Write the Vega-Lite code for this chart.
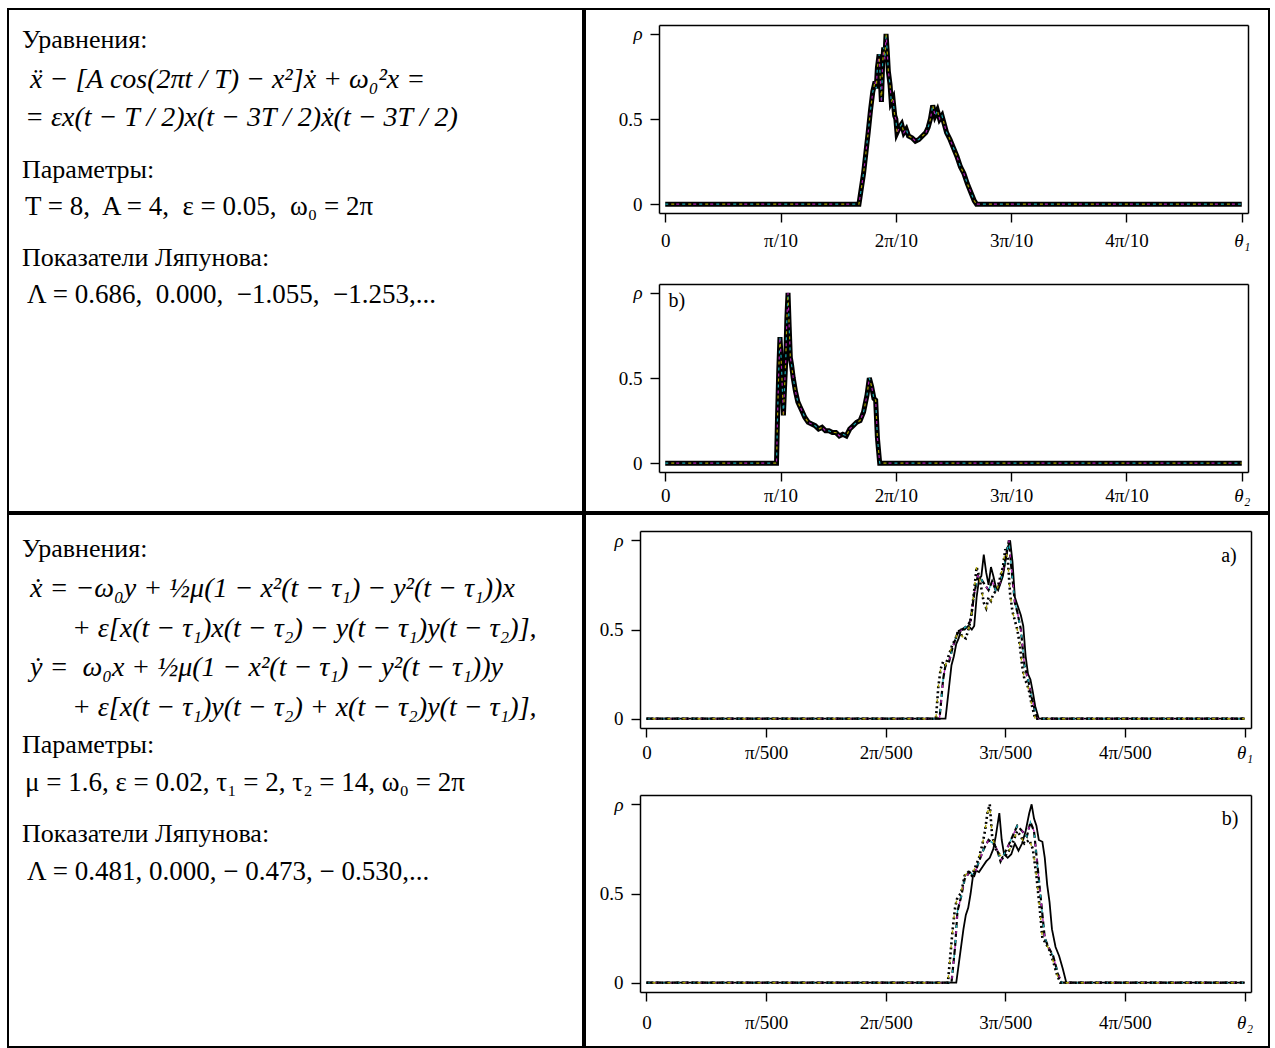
{
  "$schema": "https://vega.github.io/schema/vega-lite/v6.json",
  "padding": {"left": 7, "top": 8, "right": 0, "bottom": 0},
  "background": "white",
  "spacing": 0,
  "config": {
    "view": {"stroke": "black", "strokeWidth": 2},
    "concat": {"spacing": 0},
    "axis": {"grid": false, "domain": true, "domainColor": "black", "domainWidth": 1.5, "labelFont": "Liberation Serif", "labelFontSize": 19, "labelColor": "black", "tickColor": "black", "tickSize": 9, "tickWidth": 1.4, "labelFlush": false, "labelOverlap": false, "title": null}
  },
  "datasets": {
    "text1": [
      {"row": 0.82, "indent": 0.61, "kind": "heading", "line": "Уравнения:"},
      {"row": 1.87, "indent": 0.96, "kind": "formula", "line": "ẍ − [A cos(2πt / T) − x²]ẋ + ω₀²x ="},
      {"row": 2.87, "indent": 0.74, "kind": "formula", "line": "= εx(t − T / 2)x(t − 3T / 2)ẋ(t − 3T / 2)"},
      {"row": 4.24, "indent": 0.61, "kind": "heading", "line": "Параметры:"},
      {"row": 5.21, "indent": 0.74, "kind": "value", "line": "T = 8,\u00a0 A = 4,\u00a0 ε = 0.05,\u00a0 ω₀ = 2π"},
      {"row": 6.55, "indent": 0.61, "kind": "heading", "line": "Показатели Ляпунова:"},
      {"row": 7.53, "indent": 0.83, "kind": "value", "line": "Λ = 0.686,\u00a0 0.000,\u00a0 −1.055,\u00a0 −1.253,..."}
    ],
    "text2": [
      {"row": 0.92, "indent": 0.61, "kind": "heading", "line": "Уравнения:"},
      {"row": 1.97, "indent": 0.96, "kind": "formula", "line": "ẋ = −ω₀y + ½μ(1 − x²(t − τ₁) − y²(t − τ₁))x"},
      {"row": 3.03, "indent": 2.78, "kind": "formula", "line": "+ ε[x(t − τ₁)x(t − τ₂) − y(t − τ₁)y(t − τ₂)],"},
      {"row": 4.05, "indent": 0.96, "kind": "formula", "line": "ẏ =\u00a0 ω₀x + ½μ(1 − x²(t − τ₁) − y²(t − τ₁))y"},
      {"row": 5.11, "indent": 2.78, "kind": "formula", "line": "+ ε[x(t − τ₁)y(t − τ₂) + x(t − τ₂)y(t − τ₁)],"},
      {"row": 6.08, "indent": 0.61, "kind": "heading", "line": "Параметры:"},
      {"row": 7.08, "indent": 0.74, "kind": "value", "line": "μ = 1.6, ε = 0.02, τ₁ = 2, τ₂ = 14, ω₀ = 2π"},
      {"row": 8.42, "indent": 0.61, "kind": "heading", "line": "Показатели Ляпунова:"},
      {"row": 9.42, "indent": 0.83, "kind": "value", "line": "Λ = 0.481, 0.000, − 0.473, − 0.530,..."}
    ],
    "topA": [
      {"theta":0,"rho":0},{"theta":1.68,"rho":0},{"theta":1.72,"rho":0.18},{"theta":1.74,"rho":0.3},{"theta":1.76,"rho":0.42},{"theta":1.78,"rho":0.55},{"theta":1.8,"rho":0.66},{"theta":1.82,"rho":0.72},{"theta":1.83,"rho":0.68},{"theta":1.84,"rho":0.8},{"theta":1.855,"rho":0.88},{"theta":1.865,"rho":0.74},{"theta":1.875,"rho":0.6},{"theta":1.885,"rho":0.82},{"theta":1.895,"rho":0.92},{"theta":1.905,"rho":0.85},{"theta":1.915,"rho":1.0},{"theta":1.925,"rho":0.9},{"theta":1.935,"rho":0.78},{"theta":1.95,"rho":0.7},{"theta":1.96,"rho":0.6},{"theta":1.975,"rho":0.62},{"theta":1.99,"rho":0.52},{"theta":2.0,"rho":0.5},{"theta":2.01,"rho":0.42},{"theta":2.03,"rho":0.45},{"theta":2.05,"rho":0.47},{"theta":2.07,"rho":0.42},{"theta":2.09,"rho":0.44},{"theta":2.11,"rho":0.4},{"theta":2.14,"rho":0.39},{"theta":2.17,"rho":0.37},{"theta":2.2,"rho":0.38},{"theta":2.23,"rho":0.4},{"theta":2.26,"rho":0.42},{"theta":2.28,"rho":0.45},{"theta":2.3,"rho":0.5},{"theta":2.32,"rho":0.58},{"theta":2.34,"rho":0.52},{"theta":2.36,"rho":0.55},{"theta":2.38,"rho":0.5},{"theta":2.4,"rho":0.52},{"theta":2.42,"rho":0.47},{"theta":2.44,"rho":0.42},{"theta":2.47,"rho":0.38},{"theta":2.5,"rho":0.33},{"theta":2.53,"rho":0.28},{"theta":2.56,"rho":0.22},{"theta":2.59,"rho":0.18},{"theta":2.62,"rho":0.12},{"theta":2.65,"rho":0.07},{"theta":2.68,"rho":0.02},{"theta":2.7,"rho":0},{"theta":5,"rho":0}
    ],
    "topB": [
      {"theta":0,"rho":0},{"theta":0.965,"rho":0},{"theta":0.975,"rho":0.3},{"theta":0.985,"rho":0.55},{"theta":0.995,"rho":0.74},{"theta":1.005,"rho":0.62},{"theta":1.015,"rho":0.45},{"theta":1.025,"rho":0.28},{"theta":1.035,"rho":0.45},{"theta":1.045,"rho":0.6},{"theta":1.055,"rho":0.85},{"theta":1.065,"rho":1.0},{"theta":1.075,"rho":0.8},{"theta":1.085,"rho":0.62},{"theta":1.095,"rho":0.58},{"theta":1.11,"rho":0.5},{"theta":1.13,"rho":0.42},{"theta":1.15,"rho":0.36},{"theta":1.17,"rho":0.33},{"theta":1.19,"rho":0.3},{"theta":1.21,"rho":0.27},{"theta":1.24,"rho":0.24},{"theta":1.27,"rho":0.23},{"theta":1.3,"rho":0.22},{"theta":1.33,"rho":0.2},{"theta":1.36,"rho":0.21},{"theta":1.39,"rho":0.19},{"theta":1.42,"rho":0.19},{"theta":1.45,"rho":0.18},{"theta":1.48,"rho":0.18},{"theta":1.51,"rho":0.16},{"theta":1.54,"rho":0.17},{"theta":1.57,"rho":0.16},{"theta":1.6,"rho":0.2},{"theta":1.63,"rho":0.22},{"theta":1.66,"rho":0.24},{"theta":1.69,"rho":0.25},{"theta":1.72,"rho":0.3},{"theta":1.75,"rho":0.4},{"theta":1.77,"rho":0.5},{"theta":1.79,"rho":0.45},{"theta":1.81,"rho":0.38},{"theta":1.825,"rho":0.37},{"theta":1.84,"rho":0.15},{"theta":1.86,"rho":0},{"theta":5,"rho":0}
    ],
    "botA": [
      {"series":"solid","theta":0,"rho":0},{"series":"solid","theta":2.5,"rho":0},{"series":"solid","theta":2.53,"rho":0.18},{"series":"solid","theta":2.55,"rho":0.3},{"series":"solid","theta":2.57,"rho":0.35},{"series":"solid","theta":2.59,"rho":0.42},{"series":"solid","theta":2.61,"rho":0.45},{"series":"solid","theta":2.63,"rho":0.5},{"series":"solid","theta":2.66,"rho":0.5},{"series":"solid","theta":2.69,"rho":0.52},{"series":"solid","theta":2.72,"rho":0.5},{"series":"solid","theta":2.74,"rho":0.52},{"series":"solid","theta":2.76,"rho":0.68},{"series":"solid","theta":2.78,"rho":0.78},{"series":"solid","theta":2.8,"rho":0.8},{"series":"solid","theta":2.82,"rho":0.92},{"series":"solid","theta":2.84,"rho":0.82},{"series":"solid","theta":2.86,"rho":0.75},{"series":"solid","theta":2.88,"rho":0.85},{"series":"solid","theta":2.9,"rho":0.8},{"series":"solid","theta":2.92,"rho":0.74},{"series":"solid","theta":2.94,"rho":0.72},{"series":"solid","theta":2.96,"rho":0.76},{"series":"solid","theta":2.98,"rho":0.8},{"series":"solid","theta":3.0,"rho":0.88},{"series":"solid","theta":3.02,"rho":0.96},{"series":"solid","theta":3.04,"rho":1.0},{"series":"solid","theta":3.06,"rho":0.88},{"series":"solid","theta":3.08,"rho":0.68},{"series":"solid","theta":3.1,"rho":0.64},{"series":"solid","theta":3.13,"rho":0.58},{"series":"solid","theta":3.15,"rho":0.52},{"series":"solid","theta":3.17,"rho":0.35},{"series":"solid","theta":3.19,"rho":0.25},{"series":"solid","theta":3.21,"rho":0.22},{"series":"solid","theta":3.23,"rho":0.15},{"series":"solid","theta":3.25,"rho":0.07},{"series":"solid","theta":3.28,"rho":0},{"series":"solid","theta":5,"rho":0},
      {"series":"dotted","theta":0,"rho":0},{"series":"dotted","theta":2.42,"rho":0},{"series":"dotted","theta":2.44,"rho":0.18},{"series":"dotted","theta":2.46,"rho":0.28},{"series":"dotted","theta":2.48,"rho":0.32},{"series":"dotted","theta":2.5,"rho":0.3},{"series":"dotted","theta":2.53,"rho":0.36},{"series":"dotted","theta":2.56,"rho":0.42},{"series":"dotted","theta":2.58,"rho":0.44},{"series":"dotted","theta":2.61,"rho":0.5},{"series":"dotted","theta":2.64,"rho":0.46},{"series":"dotted","theta":2.67,"rho":0.45},{"series":"dotted","theta":2.7,"rho":0.52},{"series":"dotted","theta":2.72,"rho":0.6},{"series":"dotted","theta":2.74,"rho":0.72},{"series":"dotted","theta":2.76,"rho":0.85},{"series":"dotted","theta":2.78,"rho":0.8},{"series":"dotted","theta":2.8,"rho":0.73},{"series":"dotted","theta":2.82,"rho":0.65},{"series":"dotted","theta":2.84,"rho":0.62},{"series":"dotted","theta":2.86,"rho":0.68},{"series":"dotted","theta":2.88,"rho":0.66},{"series":"dotted","theta":2.9,"rho":0.7},{"series":"dotted","theta":2.93,"rho":0.72},{"series":"dotted","theta":2.96,"rho":0.8},{"series":"dotted","theta":2.98,"rho":0.85},{"series":"dotted","theta":3.0,"rho":0.95},{"series":"dotted","theta":3.02,"rho":0.9},{"series":"dotted","theta":3.04,"rho":0.7},{"series":"dotted","theta":3.06,"rho":0.6},{"series":"dotted","theta":3.08,"rho":0.55},{"series":"dotted","theta":3.1,"rho":0.5},{"series":"dotted","theta":3.12,"rho":0.42},{"series":"dotted","theta":3.14,"rho":0.3},{"series":"dotted","theta":3.16,"rho":0.22},{"series":"dotted","theta":3.18,"rho":0.2},{"series":"dotted","theta":3.2,"rho":0.15},{"series":"dotted","theta":3.22,"rho":0.08},{"series":"dotted","theta":3.25,"rho":0},{"series":"dotted","theta":5,"rho":0},
      {"series":"dashed","theta":0,"rho":0},{"series":"dashed","theta":2.45,"rho":0},{"series":"dashed","theta":2.48,"rho":0.22},{"series":"dashed","theta":2.5,"rho":0.3},{"series":"dashed","theta":2.53,"rho":0.32},{"series":"dashed","theta":2.56,"rho":0.4},{"series":"dashed","theta":2.6,"rho":0.48},{"series":"dashed","theta":2.64,"rho":0.5},{"series":"dashed","theta":2.68,"rho":0.52},{"series":"dashed","theta":2.71,"rho":0.55},{"series":"dashed","theta":2.74,"rho":0.7},{"series":"dashed","theta":2.77,"rho":0.8},{"series":"dashed","theta":2.8,"rho":0.78},{"series":"dashed","theta":2.83,"rho":0.75},{"series":"dashed","theta":2.86,"rho":0.72},{"series":"dashed","theta":2.89,"rho":0.77},{"series":"dashed","theta":2.92,"rho":0.72},{"series":"dashed","theta":2.95,"rho":0.75},{"series":"dashed","theta":2.98,"rho":0.82},{"series":"dashed","theta":3.01,"rho":0.93},{"series":"dashed","theta":3.03,"rho":1.0},{"series":"dashed","theta":3.05,"rho":0.85},{"series":"dashed","theta":3.08,"rho":0.65},{"series":"dashed","theta":3.1,"rho":0.6},{"series":"dashed","theta":3.13,"rho":0.5},{"series":"dashed","theta":3.16,"rho":0.3},{"series":"dashed","theta":3.19,"rho":0.22},{"series":"dashed","theta":3.22,"rho":0.12},{"series":"dashed","theta":3.25,"rho":0.04},{"series":"dashed","theta":3.27,"rho":0},{"series":"dashed","theta":5,"rho":0}
    ],
    "botB": [
      {"series":"solid","theta":0,"rho":0},{"series":"solid","theta":2.59,"rho":0},{"series":"solid","theta":2.62,"rho":0.15},{"series":"solid","theta":2.65,"rho":0.3},{"series":"solid","theta":2.67,"rho":0.38},{"series":"solid","theta":2.69,"rho":0.42},{"series":"solid","theta":2.71,"rho":0.5},{"series":"solid","theta":2.73,"rho":0.6},{"series":"solid","theta":2.75,"rho":0.63},{"series":"solid","theta":2.78,"rho":0.62},{"series":"solid","theta":2.81,"rho":0.65},{"series":"solid","theta":2.84,"rho":0.68},{"series":"solid","theta":2.87,"rho":0.7},{"series":"solid","theta":2.9,"rho":0.75},{"series":"solid","theta":2.92,"rho":0.82},{"series":"solid","theta":2.95,"rho":0.95},{"series":"solid","theta":2.97,"rho":0.8},{"series":"solid","theta":2.99,"rho":0.72},{"series":"solid","theta":3.02,"rho":0.7},{"series":"solid","theta":3.05,"rho":0.72},{"series":"solid","theta":3.08,"rho":0.78},{"series":"solid","theta":3.11,"rho":0.74},{"series":"solid","theta":3.14,"rho":0.78},{"series":"solid","theta":3.17,"rho":0.85},{"series":"solid","theta":3.2,"rho":0.95},{"series":"solid","theta":3.22,"rho":1.0},{"series":"solid","theta":3.24,"rho":0.92},{"series":"solid","theta":3.26,"rho":0.88},{"series":"solid","theta":3.28,"rho":0.8},{"series":"solid","theta":3.31,"rho":0.79},{"series":"solid","theta":3.33,"rho":0.7},{"series":"solid","theta":3.35,"rho":0.55},{"series":"solid","theta":3.37,"rho":0.45},{"series":"solid","theta":3.39,"rho":0.3},{"series":"solid","theta":3.42,"rho":0.2},{"series":"solid","theta":3.45,"rho":0.15},{"series":"solid","theta":3.48,"rho":0.08},{"series":"solid","theta":3.51,"rho":0},{"series":"solid","theta":5,"rho":0},
      {"series":"dotted","theta":0,"rho":0},{"series":"dotted","theta":2.52,"rho":0},{"series":"dotted","theta":2.54,"rho":0.15},{"series":"dotted","theta":2.56,"rho":0.3},{"series":"dotted","theta":2.58,"rho":0.42},{"series":"dotted","theta":2.6,"rho":0.48},{"series":"dotted","theta":2.63,"rho":0.5},{"series":"dotted","theta":2.66,"rho":0.6},{"series":"dotted","theta":2.69,"rho":0.62},{"series":"dotted","theta":2.72,"rho":0.6},{"series":"dotted","theta":2.75,"rho":0.65},{"series":"dotted","theta":2.78,"rho":0.7},{"series":"dotted","theta":2.81,"rho":0.78},{"series":"dotted","theta":2.83,"rho":0.85},{"series":"dotted","theta":2.85,"rho":0.95},{"series":"dotted","theta":2.87,"rho":1.0},{"series":"dotted","theta":2.89,"rho":0.82},{"series":"dotted","theta":2.92,"rho":0.75},{"series":"dotted","theta":2.95,"rho":0.72},{"series":"dotted","theta":2.98,"rho":0.7},{"series":"dotted","theta":3.01,"rho":0.72},{"series":"dotted","theta":3.04,"rho":0.75},{"series":"dotted","theta":3.07,"rho":0.8},{"series":"dotted","theta":3.1,"rho":0.85},{"series":"dotted","theta":3.13,"rho":0.82},{"series":"dotted","theta":3.16,"rho":0.78},{"series":"dotted","theta":3.2,"rho":0.8},{"series":"dotted","theta":3.23,"rho":0.75},{"series":"dotted","theta":3.26,"rho":0.6},{"series":"dotted","theta":3.29,"rho":0.4},{"series":"dotted","theta":3.31,"rho":0.25},{"series":"dotted","theta":3.34,"rho":0.22},{"series":"dotted","theta":3.37,"rho":0.18},{"series":"dotted","theta":3.4,"rho":0.12},{"series":"dotted","theta":3.43,"rho":0.05},{"series":"dotted","theta":3.46,"rho":0},{"series":"dotted","theta":5,"rho":0},
      {"series":"dashed","theta":0,"rho":0},{"series":"dashed","theta":2.55,"rho":0},{"series":"dashed","theta":2.58,"rho":0.2},{"series":"dashed","theta":2.6,"rho":0.4},{"series":"dashed","theta":2.63,"rho":0.48},{"series":"dashed","theta":2.66,"rho":0.58},{"series":"dashed","theta":2.7,"rho":0.62},{"series":"dashed","theta":2.74,"rho":0.6},{"series":"dashed","theta":2.78,"rho":0.68},{"series":"dashed","theta":2.82,"rho":0.75},{"series":"dashed","theta":2.86,"rho":0.8},{"series":"dashed","theta":2.9,"rho":0.78},{"series":"dashed","theta":2.93,"rho":0.75},{"series":"dashed","theta":2.96,"rho":0.68},{"series":"dashed","theta":2.99,"rho":0.72},{"series":"dashed","theta":3.02,"rho":0.76},{"series":"dashed","theta":3.06,"rho":0.82},{"series":"dashed","theta":3.1,"rho":0.88},{"series":"dashed","theta":3.14,"rho":0.85},{"series":"dashed","theta":3.18,"rho":0.82},{"series":"dashed","theta":3.21,"rho":0.9},{"series":"dashed","theta":3.24,"rho":0.85},{"series":"dashed","theta":3.27,"rho":0.65},{"series":"dashed","theta":3.3,"rho":0.45},{"series":"dashed","theta":3.33,"rho":0.25},{"series":"dashed","theta":3.36,"rho":0.2},{"series":"dashed","theta":3.4,"rho":0.15},{"series":"dashed","theta":3.44,"rho":0.05},{"series":"dashed","theta":3.47,"rho":0},{"series":"dashed","theta":5,"rho":0}
    ]
  },
  "vconcat": [
    {
      "spacing": 0,
      "hconcat": [
        {
          "width": 575, "height": 503,
          "data": {"name": "text1"},
          "encoding": {
            "x": {"field": "indent", "type": "quantitative", "scale": {"domain": [0, 25.0], "nice": false, "zero": false}, "axis": null},
            "y": {"field": "row", "type": "quantitative", "scale": {"domain": [0, 13.237], "reverse": true, "nice": false, "zero": false}, "axis": null},
            "text": {"field": "line", "type": "nominal"}
          },
          "layer": [
            {"transform": [{"filter": "datum.kind == 'heading'"}], "mark": {"type": "text", "align": "left", "baseline": "middle", "font": "Liberation Serif", "fontSize": 26, "color": "black"}},
            {"transform": [{"filter": "datum.kind == 'formula'"}], "mark": {"type": "text", "align": "left", "baseline": "middle", "font": "Liberation Serif", "fontSize": 28, "fontStyle": "italic", "color": "black"}},
            {"transform": [{"filter": "datum.kind == 'value'"}], "mark": {"type": "text", "align": "left", "baseline": "middle", "font": "Liberation Serif", "fontSize": 27, "color": "black"}}
          ]
        },
        {
          "width": 684, "height": 503,
          "resolve": {"scale": {"x": "independent", "y": "independent"}, "axis": {"x": "independent", "y": "independent"}},
          "layer": [
            {
              "data": {"name": "topA"},
              "mark": {"type": "line", "color": "black", "strokeWidth": 5},
              "encoding": {
                "x": {"field": "theta", "type": "quantitative", "scale": {"domain": [-0.054, 5.054], "range": [74, 663], "nice": false, "zero": false},
                      "axis": {"orient": "top", "offset": -16, "ticks": false, "labels": false}},
                "y": {"field": "rho", "type": "quantitative", "scale": {"domain": [-0.052, 1.052], "range": [204, 16], "nice": false, "zero": false},
                      "axis": {"orient": "right", "offset": -21, "ticks": false, "labels": false}}
              }
            },
            {
              "data": {"name": "topA"},
              "encoding": {
                "x": {"field": "theta", "type": "quantitative", "scale": {"domain": [-0.054, 5.054], "range": [74, 663], "nice": false, "zero": false},
                      "axis": {"orient": "bottom", "offset": -299, "values": [0, 1, 2, 3, 4, 5], "ticks": true, "labelPadding": 9,
                               "labelExpr": "datum.value == 0 ? '0' : datum.value == 1 ? 'π/10' : datum.value == 5 ? 'θ₁' : datum.value + 'π/10'",
                               "labelFontStyle": {"condition": {"test": "datum.value == 5", "value": "italic"}, "value": "normal"}}},
                "y": {"field": "rho", "type": "quantitative", "scale": {"domain": [-0.052, 1.052], "range": [204, 16], "nice": false, "zero": false},
                      "axis": {"orient": "left", "offset": -74, "values": [0, 0.5, 1], "ticks": true, "tickSize": 9, "labelPadding": 8,
                               "labelExpr": "datum.value == 1 ? 'ρ' : datum.value == 0 ? '0' : '0.5'",
                               "labelFontStyle": {"condition": {"test": "datum.value == 1", "value": "italic"}, "value": "normal"}}}
              },
              "layer": [
                {"mark": {"type": "line", "color": "#1aa6b0", "strokeWidth": 1.2, "strokeDash": [3, 14]}},
                {"mark": {"type": "line", "color": "#b020b0", "strokeWidth": 1.2, "strokeDash": [3, 14], "strokeDashOffset": 6}},
                {"mark": {"type": "line", "color": "#a8a000", "strokeWidth": 1.2, "strokeDash": [3, 14], "strokeDashOffset": 11}}
              ]
            },
            {
              "data": {"name": "topB"},
              "mark": {"type": "line", "color": "black", "strokeWidth": 5},
              "encoding": {
                "x": {"field": "theta", "type": "quantitative", "scale": {"domain": [-0.054, 5.054], "range": [74, 663], "nice": false, "zero": false},
                      "axis": {"orient": "top", "offset": -275, "ticks": false, "labels": false}},
                "y": {"field": "rho", "type": "quantitative", "scale": {"domain": [-0.052, 1.052], "range": [463, 275], "nice": false, "zero": false},
                      "axis": {"orient": "right", "offset": -21, "ticks": false, "labels": false}}
              }
            },
            {
              "data": {"name": "topB"},
              "encoding": {
                "x": {"field": "theta", "type": "quantitative", "scale": {"domain": [-0.054, 5.054], "range": [74, 663], "nice": false, "zero": false},
                      "axis": {"orient": "bottom", "offset": -40, "values": [0, 1, 2, 3, 4, 5], "ticks": true, "labelPadding": 5,
                               "labelExpr": "datum.value == 0 ? '0' : datum.value == 1 ? 'π/10' : datum.value == 5 ? 'θ₂' : datum.value + 'π/10'",
                               "labelFontStyle": {"condition": {"test": "datum.value == 5", "value": "italic"}, "value": "normal"}}},
                "y": {"field": "rho", "type": "quantitative", "scale": {"domain": [-0.052, 1.052], "range": [463, 275], "nice": false, "zero": false},
                      "axis": {"orient": "left", "offset": -74, "values": [0, 0.5, 1], "ticks": true, "tickSize": 9, "labelPadding": 8,
                               "labelExpr": "datum.value == 1 ? 'ρ' : datum.value == 0 ? '0' : '0.5'",
                               "labelFontStyle": {"condition": {"test": "datum.value == 1", "value": "italic"}, "value": "normal"}}}
              },
              "layer": [
                {"mark": {"type": "line", "color": "#1aa6b0", "strokeWidth": 1.2, "strokeDash": [3, 14]}},
                {"mark": {"type": "line", "color": "#b020b0", "strokeWidth": 1.2, "strokeDash": [3, 14], "strokeDashOffset": 6}},
                {"mark": {"type": "line", "color": "#a8a000", "strokeWidth": 1.2, "strokeDash": [3, 14], "strokeDashOffset": 11}},
                {"transform": [{"filter": "datum.theta == 0"}], "mark": {"type": "text", "font": "Liberation Serif", "fontSize": 20, "color": "black", "align": "center", "baseline": "middle"},
                 "encoding": {"x": {"datum": 0.1, "type": "quantitative"}, "y": {"datum": 0.95, "type": "quantitative"}, "text": {"value": "b)"}}}
              ]
            }
          ]
        }
      ]
    },
    {
      "spacing": 0,
      "hconcat": [
        {
          "width": 575, "height": 533,
          "data": {"name": "text2"},
          "encoding": {
            "x": {"field": "indent", "type": "quantitative", "scale": {"domain": [0, 25.0], "nice": false, "zero": false}, "axis": null},
            "y": {"field": "row", "type": "quantitative", "scale": {"domain": [0, 14.026], "reverse": true, "nice": false, "zero": false}, "axis": null},
            "text": {"field": "line", "type": "nominal"}
          },
          "layer": [
            {"transform": [{"filter": "datum.kind == 'heading'"}], "mark": {"type": "text", "align": "left", "baseline": "middle", "font": "Liberation Serif", "fontSize": 26, "color": "black"}},
            {"transform": [{"filter": "datum.kind == 'formula'"}], "mark": {"type": "text", "align": "left", "baseline": "middle", "font": "Liberation Serif", "fontSize": 28, "fontStyle": "italic", "color": "black"}},
            {"transform": [{"filter": "datum.kind == 'value'"}], "mark": {"type": "text", "align": "left", "baseline": "middle", "font": "Liberation Serif", "fontSize": 27, "color": "black"}}
          ]
        },
        {
          "width": 684, "height": 533,
          "resolve": {"scale": {"x": "independent", "y": "independent"}, "axis": {"x": "independent", "y": "independent"}},
          "layer": [
            {
              "data": {"name": "botA"},
              "transform": [{"filter": "datum.series == 'solid'"}],
              "mark": {"type": "line", "color": "black", "strokeWidth": 1.8},
              "encoding": {
                "x": {"field": "theta", "type": "quantitative", "scale": {"domain": [-0.054, 5.054], "range": [55, 666], "nice": false, "zero": false},
                      "axis": {"orient": "top", "offset": -17, "ticks": false, "labels": false}},
                "y": {"field": "rho", "type": "quantitative", "scale": {"domain": [-0.052, 1.052], "range": [214, 17], "nice": false, "zero": false},
                      "axis": {"orient": "right", "offset": -18, "ticks": false, "labels": false}}
              }
            },
            {
              "data": {"name": "botA"},
              "encoding": {
                "x": {"field": "theta", "type": "quantitative", "scale": {"domain": [-0.054, 5.054], "range": [55, 666], "nice": false, "zero": false},
                      "axis": {"orient": "bottom", "offset": -319, "values": [0, 1, 2, 3, 4, 5], "ticks": true, "labelPadding": 6,
                               "labelExpr": "datum.value == 0 ? '0' : datum.value == 1 ? 'π/500' : datum.value == 5 ? 'θ₁' : datum.value + 'π/500'",
                               "labelFontStyle": {"condition": {"test": "datum.value == 5", "value": "italic"}, "value": "normal"}}},
                "y": {"field": "rho", "type": "quantitative", "scale": {"domain": [-0.052, 1.052], "range": [214, 17], "nice": false, "zero": false},
                      "axis": {"orient": "left", "offset": -55, "values": [0, 0.5, 1], "ticks": true, "tickSize": 9, "labelPadding": 8,
                               "labelExpr": "datum.value == 1 ? 'ρ' : datum.value == 0 ? '0' : '0.5'",
                               "labelFontStyle": {"condition": {"test": "datum.value == 1", "value": "italic"}, "value": "normal"}}}
              },
              "layer": [
                {"transform": [{"filter": "datum.series == 'dashed'"}], "mark": {"type": "line", "color": "black", "strokeWidth": 2.2, "strokeDash": [6, 3]}},
                {"transform": [{"filter": "datum.series == 'dashed'"}], "mark": {"type": "line", "color": "#1aa6b0", "strokeWidth": 1.4, "strokeDash": [3, 12]}},
                {"transform": [{"filter": "datum.series == 'dashed'"}], "mark": {"type": "line", "color": "#b020b0", "strokeWidth": 1.4, "strokeDash": [3, 12], "strokeDashOffset": 6}},
                {"transform": [{"filter": "datum.series == 'dotted'"}], "mark": {"type": "line", "color": "black", "strokeWidth": 2.6, "strokeDash": [2, 3]}},
                {"transform": [{"filter": "datum.series == 'dotted'"}], "mark": {"type": "line", "color": "#a8a000", "strokeWidth": 1.4, "strokeDash": [3, 12], "strokeDashOffset": 9}},
                {"transform": [{"filter": "datum.theta == 0 && datum.series == 'solid'"}], "mark": {"type": "text", "font": "Liberation Serif", "fontSize": 20, "color": "black", "align": "center", "baseline": "middle"},
                 "encoding": {"x": {"datum": 4.87, "type": "quantitative"}, "y": {"datum": 0.91, "type": "quantitative"}, "text": {"value": "a)"}}}
              ]
            },
            {
              "data": {"name": "botB"},
              "transform": [{"filter": "datum.series == 'solid'"}],
              "mark": {"type": "line", "color": "black", "strokeWidth": 1.8},
              "encoding": {
                "x": {"field": "theta", "type": "quantitative", "scale": {"domain": [-0.054, 5.054], "range": [55, 666], "nice": false, "zero": false},
                      "axis": {"orient": "top", "offset": -281, "ticks": false, "labels": false}},
                "y": {"field": "rho", "type": "quantitative", "scale": {"domain": [-0.052, 1.052], "range": [478, 281], "nice": false, "zero": false},
                      "axis": {"orient": "right", "offset": -18, "ticks": false, "labels": false}}
              }
            },
            {
              "data": {"name": "botB"},
              "encoding": {
                "x": {"field": "theta", "type": "quantitative", "scale": {"domain": [-0.054, 5.054], "range": [55, 666], "nice": false, "zero": false},
                      "axis": {"orient": "bottom", "offset": -55, "values": [0, 1, 2, 3, 4, 5], "ticks": true, "labelPadding": 12,
                               "labelExpr": "datum.value == 0 ? '0' : datum.value == 1 ? 'π/500' : datum.value == 5 ? 'θ₂' : datum.value + 'π/500'",
                               "labelFontStyle": {"condition": {"test": "datum.value == 5", "value": "italic"}, "value": "normal"}}},
                "y": {"field": "rho", "type": "quantitative", "scale": {"domain": [-0.052, 1.052], "range": [478, 281], "nice": false, "zero": false},
                      "axis": {"orient": "left", "offset": -55, "values": [0, 0.5, 1], "ticks": true, "tickSize": 9, "labelPadding": 8,
                               "labelExpr": "datum.value == 1 ? 'ρ' : datum.value == 0 ? '0' : '0.5'",
                               "labelFontStyle": {"condition": {"test": "datum.value == 1", "value": "italic"}, "value": "normal"}}}
              },
              "layer": [
                {"transform": [{"filter": "datum.series == 'dashed'"}], "mark": {"type": "line", "color": "black", "strokeWidth": 2.2, "strokeDash": [6, 3]}},
                {"transform": [{"filter": "datum.series == 'dashed'"}], "mark": {"type": "line", "color": "#1aa6b0", "strokeWidth": 1.4, "strokeDash": [3, 12]}},
                {"transform": [{"filter": "datum.series == 'dashed'"}], "mark": {"type": "line", "color": "#b020b0", "strokeWidth": 1.4, "strokeDash": [3, 12], "strokeDashOffset": 6}},
                {"transform": [{"filter": "datum.series == 'dotted'"}], "mark": {"type": "line", "color": "black", "strokeWidth": 2.6, "strokeDash": [2, 3]}},
                {"transform": [{"filter": "datum.series == 'dotted'"}], "mark": {"type": "line", "color": "#a8a000", "strokeWidth": 1.4, "strokeDash": [3, 12], "strokeDashOffset": 9}},
                {"transform": [{"filter": "datum.theta == 0 && datum.series == 'solid'"}], "mark": {"type": "text", "font": "Liberation Serif", "fontSize": 20, "color": "black", "align": "center", "baseline": "middle"},
                 "encoding": {"x": {"datum": 4.88, "type": "quantitative"}, "y": {"datum": 0.92, "type": "quantitative"}, "text": {"value": "b)"}}}
              ]
            }
          ]
        }
      ]
    }
  ]
}
